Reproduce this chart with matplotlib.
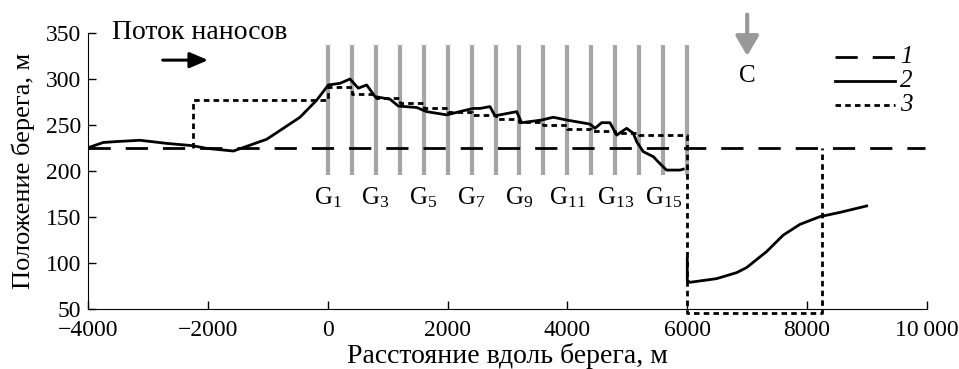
import matplotlib
matplotlib.use("Agg")
import matplotlib.pyplot as plt
import numpy as np

plt.rcParams['font.family'] = ['Liberation Serif', 'DejaVu Serif']
plt.rcParams['mathtext.fontset'] = 'custom'
plt.rcParams['mathtext.rm'] = 'Liberation Serif'
plt.rcParams['mathtext.it'] = 'Liberation Serif:italic'

# Line 1: initial shoreline
line1_x = [-4000, 9970]
line1_y = [225, 225]

# Line 2: measured shoreline (two segments)
line2a_x = [-3967, -3745, -3522, -3132, -2687, -2253, -2020, -1575, -1018, -463, -184, 10, 205, 372, 510,
            650, 790, 1040, 1178, 1485, 1652, 1986, 2264, 2430, 2541, 2708, 2791, 3153, 3236, 3570, 3764,
            3987, 4376, 4460, 4571, 4710, 4821, 4988, 5099, 5155, 5266, 5433, 5544, 5655, 5878, 5933]
line2a_y = [226, 231, 232, 233.4, 230, 227.5, 224.6, 221.7, 234.5, 258.4, 277, 293.5, 295.3, 300, 290,
            293.5, 280.8, 278, 270.6, 269, 264.5, 261, 265.5, 268, 268, 270, 260, 264.5, 252.5, 255.4, 258.4,
            255.4, 251, 246.4, 252.5, 252.5, 239, 246.4, 241, 232, 221, 215.6, 208, 201, 201, 202]
line2b_x = [6000, 6000, 6045, 6489, 6823, 6990, 7324, 7603, 7881, 8214, 8548, 8993]
line2b_y = [105, 81, 79, 83, 89.5, 95, 112.4, 130.4, 142, 150.4, 155, 162]

# Line 3: model shoreline (steps between groins)
step_x = [0, 400, 800, 1200, 1600, 2000, 2400, 2800, 3200, 3600, 4000, 4400, 4800, 5200, 5600]
step_y = [291, 284, 279, 274, 268, 264, 261, 257, 253, 250, 246, 244, 241, 239, 239]
line3_pre_x = [-2250, -2250, 0]
line3_pre_y = [225, 277, 277]
line3_post_x = [6000, 6000, 8250, 8250]
line3_post_y = [239, 46, 46, 225]

# Groins
groin_x = [0, 400, 800, 1200, 1600, 2000, 2400, 2800, 3200, 3600, 4000, 4400, 4800, 5200, 5600, 6000]
groin_bottom, groin_top = 196, 337
groin_labels = ['1', '3', '5', '7', '9', '11', '13', '15']
groin_label_x = [0, 800, 1600, 2400, 3200, 4000, 4800, 5600]

legend_labels = ['1', '2', '3']

FS = 18
TFS = 17
LW = 2.0
STY1 = (0, (8, 5.4))
STY3 = (0, (2.0, 1.5))

fig = plt.figure(figsize=(9.59, 3.69), dpi=100)
ax = fig.add_axes([0.0918, 0.1626, 0.8748, 0.748])

for gx in groin_x:
    ax.plot([gx, gx], [groin_bottom, groin_top], color='#a6a6a6', lw=3.0, solid_capstyle='butt', zorder=1)

# build line 3 path
l3x = list(line3_pre_x)
l3y = list(line3_pre_y)
for sx, sy in zip(step_x, step_y):
    l3x += [sx, sx + 400]
    l3y += [sy, sy]
l3x += line3_post_x
l3y += line3_post_y

ax.plot(line1_x, line1_y, color='black', lw=LW, linestyle=STY1, zorder=2)
ax.plot(line2a_x, line2a_y, color='black', lw=LW, zorder=3)
ax.plot(line2b_x, line2b_y, color='black', lw=LW, zorder=3)
ax.plot(l3x, l3y, color='black', lw=LW, linestyle=STY3, zorder=3, clip_on=False)

for lx, lab in zip(groin_label_x, groin_labels):
    ax.text(lx, 171, r'G$_{' + lab + '}$', ha='center', va='center', fontsize=FS)

ax.text(-3600, 350, 'Поток наносов', ha='left', va='center', fontsize=20)
ax.annotate('', xy=(-1950, 320.5), xytext=(-2800, 320.5),
            arrowprops=dict(arrowstyle='-|>,head_length=1.1,head_width=0.47', color='black', lw=2.2))
ax.annotate('', xy=(7000, 322), xytext=(7000, 373),
            arrowprops=dict(arrowstyle='-|>,head_length=1.2,head_width=0.7', color='#999999', lw=3),
            annotation_clip=False)
ax.text(7000, 303, 'C', ha='center', va='center', fontsize=FS)

# legend (manual, in axes coordinates)
leg_y = [0.913, 0.826, 0.739]
leg_styles = [STY1, '-', STY3]
for yy, sty, lab in zip(leg_y, leg_styles, legend_labels):
    ax.plot([0.890, 0.962], [yy, yy], transform=ax.transAxes, color='black', lw=LW,
            linestyle=sty, clip_on=False)
    ax.text(0.968, yy, lab, transform=ax.transAxes, fontsize=FS, fontstyle='italic',
            ha='left', va='center')

ax.set_xlim(-4000, 10000)
ax.set_ylim(50, 350)
ax.set_xticks([-4000, -2000, 0, 2000, 4000, 6000, 8000, 10000])
ax.set_xticklabels(['\u22124000', '\u22122000', '0', '2000', '4000', '6000', '8000', '10\u2009000'])
ax.set_yticks([50, 100, 150, 200, 250, 300, 350])
ax.tick_params(direction='in', length=6, width=1, labelsize=TFS)
ax.tick_params(axis='x', pad=8)
ax.tick_params(axis='y', pad=5)
ax.spines['top'].set_visible(False)
ax.spines['right'].set_visible(False)
ax.set_xlabel('Расстояние вдоль берега, м', fontsize=20, labelpad=1)
ax.set_ylabel('Положение берега, м', fontsize=19, labelpad=8)

fig.savefig('out.png', dpi=100)
